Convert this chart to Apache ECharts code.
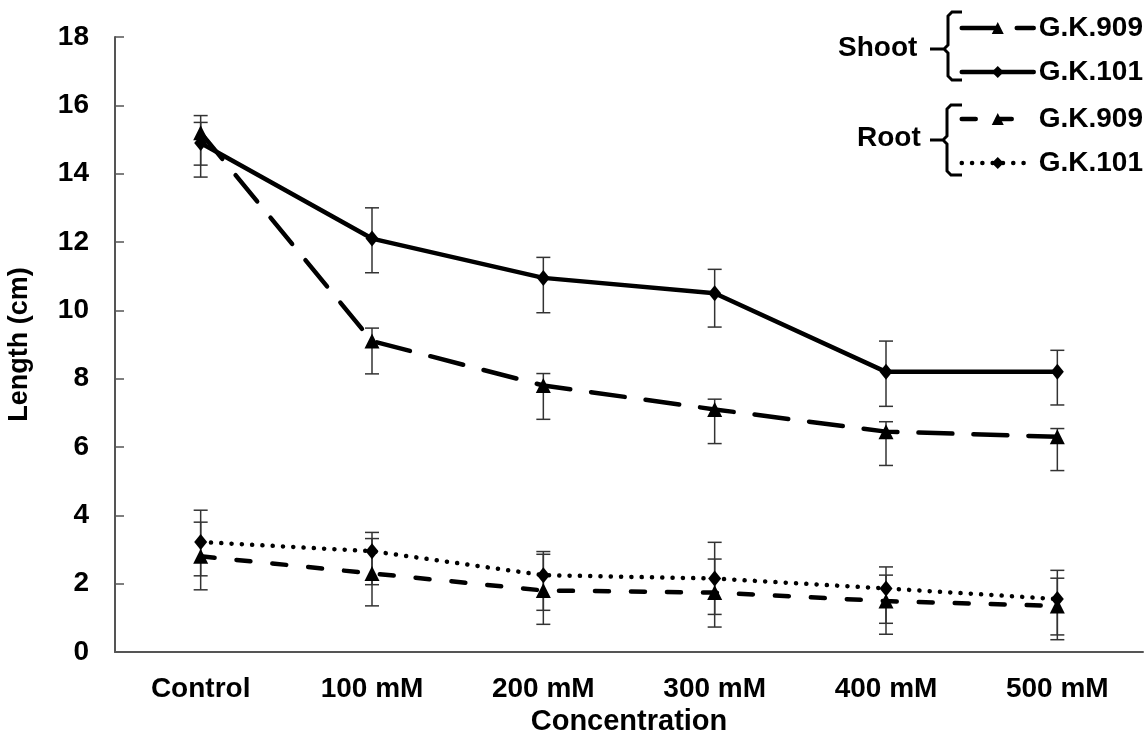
<!DOCTYPE html>
<html>
<head>
<meta charset="utf-8">
<title>Length vs Concentration</title>
<script src="https://cdn.jsdelivr.net/npm/echarts@6/dist/echarts.min.js"></script>
<style>
  html, body { margin: 0; padding: 0; background: #fff; }
  #chart { width: 1146px; height: 735px; }
</style>
</head>
<body>
<div id="chart"></div>
<script>
var categories = ['Control', '100 mM', '200 mM', '300 mM', '400 mM', '500 mM'];
var yTicks = [0, 2, 4, 6, 8, 10, 12, 14, 16, 18];

// shoot
var shoot909 = [15.2, 9.1, 7.8, 7.1, 6.45, 6.3];
var shoot909High = [15.5, 9.48, 8.15, 7.4, 6.74, 6.54];
var shoot909Low = [14.25, 8.14, 6.81, 6.1, 5.46, 5.31];
var shoot101 = [14.9, 12.1, 10.95, 10.5, 8.2, 8.2];
var shoot101High = [15.7, 13.0, 11.55, 11.2, 9.1, 8.83];
var shoot101Low = [13.9, 11.1, 9.93, 9.51, 7.19, 7.23];

// root
var root909 = [2.8, 2.3, 1.8, 1.74, 1.49, 1.35];
var root909High = [3.8, 3.32, 2.86, 2.72, 2.49, 2.39];
var root909Low = [1.82, 1.35, 0.81, 0.73, 0.52, 0.36];
var root101 = [3.22, 2.95, 2.25, 2.15, 1.86, 1.55];
var root101High = [4.15, 3.5, 2.94, 3.21, 2.25, 2.16];
var root101Low = [2.23, 1.97, 1.22, 1.1, 0.84, 0.5];

var font = "'Liberation Sans', Arial, sans-serif";

function errData(low, high) {
	var out = [];
	for (var i = 0; i < low.length; i++) {
		out.push([i, low[i], high[i]]);
	}
	return out;
}
var allErr = [].concat(
	errData(shoot909Low, shoot909High),
	errData(shoot101Low, shoot101High),
	errData(root909Low, root909High),
	errData(root101Low, root101High)
);

function renderErr(params, api) {
	var x = api.value(0);
	var lo = api.coord([x, api.value(1)]);
	var hi = api.coord([x, api.value(2)]);
	var w = 7;
	var st = { stroke: '#333', lineWidth: 1.5 };
	return {
		type: 'group',
		children: [
			{ type: 'line', shape: { x1: lo[0], y1: lo[1], x2: hi[0], y2: hi[1] }, style: st },
			{ type: 'line', shape: { x1: lo[0] - w, y1: lo[1], x2: lo[0] + w, y2: lo[1] }, style: st },
			{ type: 'line', shape: { x1: hi[0] - w, y1: hi[1], x2: hi[0] + w, y2: hi[1] }, style: st }
		]
	};
}

function lineSeries(name, data, symbol, size, dash) {
	return {
		name: name,
		type: 'line',
		data: data,
		symbol: symbol,
		symbolSize: size,
		z: 3,
		itemStyle: { color: '#000' },
		lineStyle: { color: '#000', width: 4.5, type: dash, cap: 'round' }
	};
}

var labelStyle = { fontFamily: font, fontWeight: 'bold', fontSize: 28, color: '#000' };
var legendText = { fontFamily: font, fontWeight: 'bold', fontSize: 28, color: '#000', lineHeight: 30 };

var myChart = echarts.init(document.getElementById('chart'));
var option = {
	backgroundColor: '#fff',
	animation: false,
	grid: { left: 115, right: 3, top: 37, bottom: 83, outerBoundsMode: 'none' },
	legend: [{
		data: ['Shoot G.K.909', 'Shoot G.K.101'],
		orient: 'vertical',
		right: 3,
		top: 13,
		padding: 0,
		itemWidth: 72,
		itemHeight: 15,
		itemGap: 14,
		lineStyle: { width: 'inherit' },
		formatter: function (n) { return n.replace('Shoot ', ''); },
		textStyle: legendText
	}, {
		data: ['Root G.K.909', 'Root G.K.101'],
		orient: 'vertical',
		right: 3,
		top: 104,
		padding: 0,
		itemWidth: 72,
		itemHeight: 15,
		itemGap: 14,
		lineStyle: { width: 'inherit' },
		formatter: function (n) { return n.replace('Root ', ''); },
		textStyle: legendText
	}],
	xAxis: {
		type: 'category',
		data: categories,
		name: 'Concentration',
		nameLocation: 'middle',
		nameGap: 54,
		nameTextStyle: { fontFamily: font, fontWeight: 'bold', fontSize: 29, color: '#000' },
		axisLine: { lineStyle: { color: '#555', width: 2 } },
		axisTick: { inside: true, length: 9, lineStyle: { color: '#555', width: 1.5 } },
		axisLabel: Object.assign({ margin: 23 }, labelStyle)
	},
	yAxis: {
		type: 'value',
		min: 0,
		max: 18,
		interval: 2,
		name: 'Length (cm)',
		nameLocation: 'middle',
		nameGap: 82,
		nameTextStyle: { fontFamily: font, fontWeight: 'bold', fontSize: 27, color: '#000' },
		axisLine: { show: true, lineStyle: { color: '#555', width: 2 } },
		axisTick: { show: true, inside: true, length: 9, lineStyle: { color: '#555', width: 1.5 } },
		splitLine: { show: false },
		axisLabel: Object.assign({
			margin: 26,
			formatter: function (v) { return yTicks.indexOf(v) >= 0 ? String(v) : ''; }
		}, labelStyle)
	},
	graphic: [
		{ type: 'text', left: 838, top: 34, style: { text: 'Shoot', fontFamily: font, fontWeight: 'bold', fontSize: 28, fill: '#000' } },
		{ type: 'polyline', shape: { points: [[962, 12], [952, 12], [948, 16], [948, 45], [944, 49], [930, 49], [944, 49], [948, 53], [948, 76], [952, 80], [962, 80]] },
			style: { stroke: '#000', lineWidth: 3, fill: null } },
		{ type: 'text', left: 857, top: 124, style: { text: 'Root', fontFamily: font, fontWeight: 'bold', fontSize: 28, fill: '#000' } },
		{ type: 'polyline', shape: { points: [[962, 105], [951, 105], [947, 109], [947, 136], [943, 140], [930, 140], [943, 140], [947, 144], [947, 171], [951, 175], [962, 175]] },
			style: { stroke: '#000', lineWidth: 3, fill: null } }
	],
	series: [
		{
			name: 'err',
			type: 'custom',
			renderItem: renderErr,
			data: allErr,
			z: 2,
			silent: true
		},
		lineSeries('Shoot G.K.909', shoot909, 'triangle', 15, [34, 21]),
		lineSeries('Shoot G.K.101', shoot101, 'diamond', [13, 16], 'solid'),
		lineSeries('Root G.K.909', root909, 'triangle', 15, [14, 22]),
		lineSeries('Root G.K.101', root101, 'diamond', [13, 16], [0.1, 10.2])
	]
};
myChart.setOption(option);
</script>
</body>
</html>
